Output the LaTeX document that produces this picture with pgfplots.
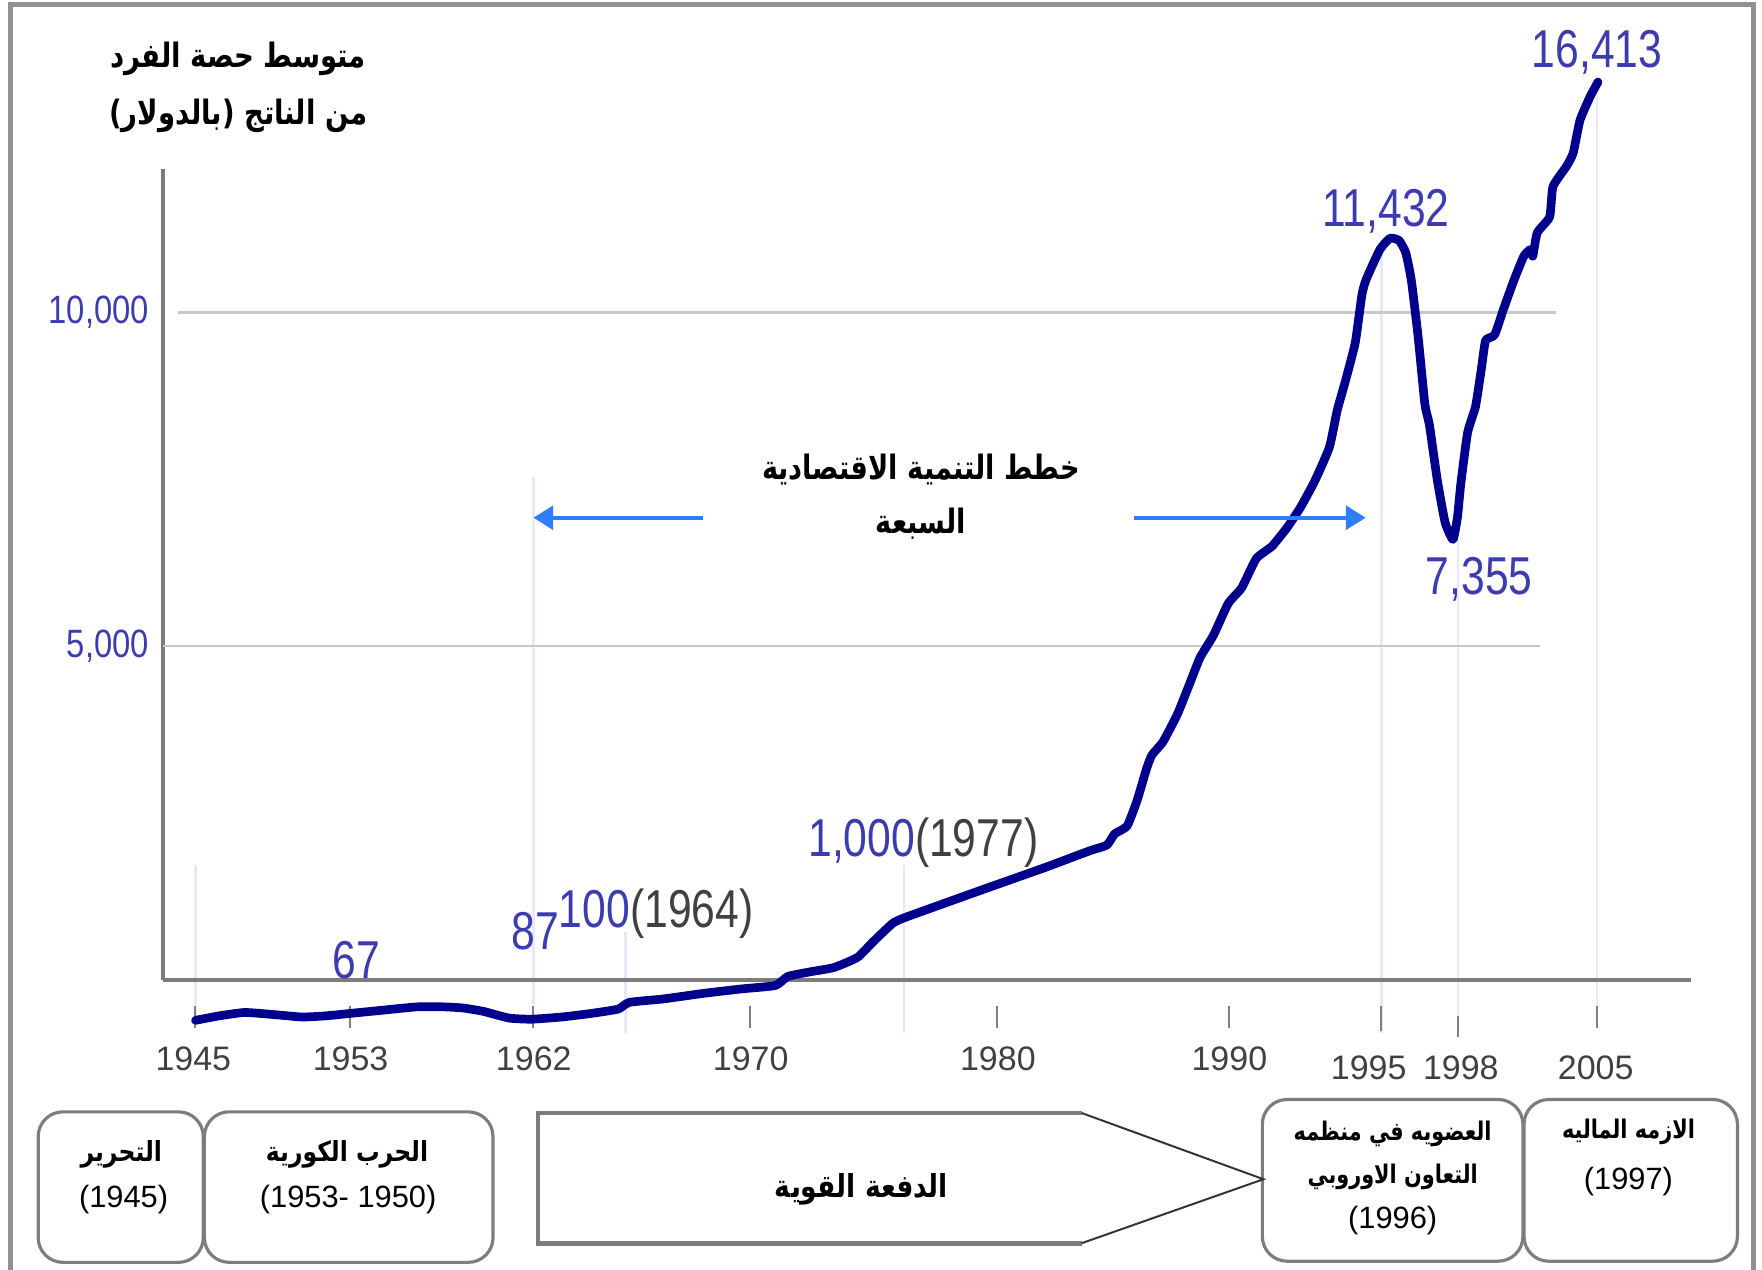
\documentclass[border=0pt]{standalone}
\usepackage{pgfplots}
\pgfplotsset{compat=1.18}
\usepackage{pgfplotstable}
\usepackage{fontspec}
\setmainfont{Liberation Sans}
\newfontfamily\arabicfont[Script=Arabic]{DejaVu Sans}
\TeXXeTstate=1
\usetikzlibrary{arrows.meta}

\definecolor{navyline}{RGB}{0,0,140}
\definecolor{lblblue}{RGB}{60,60,175}
\definecolor{arrowblue}{RGB}{50,125,255}
\definecolor{guide}{RGB}{232,232,250}
\definecolor{gridgray}{RGB}{200,200,200}
\definecolor{boxgray}{RGB}{125,125,125}

% condensed, large value labels
\newcommand{\biglbl}[1]{\scalebox{0.8}[1]{\fontsize{13.5}{14}\selectfont #1}}
% arabic text: size, horizontal squeeze, text (text carries its own \beginR..\endR)
\newcommand{\ar}[3]{\scalebox{#2}[1]{\fontsize{#1}{#1}\selectfont\arabicfont\bfseries #3}}

% per-capita GNI (schematic), x = position on the timeline
\pgfplotstableread{
x y
174 -606
195 -539
218 -488
245 -522
269 -556
290 -539
310 -505
340 -455
371 -404
395 -404
412 -421
430 -471
453 -572
473 -589
500 -556
525 -505
550 -438
560 -337
590 -286
626 -202
660 -135
690 -84
701 51
720 118
742 185
763 337
777 572
794 842
804 926
840 1145
879 1380
930 1684
970 1936
985 2020
992 2189
1003 2306
1012 2694
1020 3148
1025 3367
1035 3569
1048 3990
1060 4495
1068 4832
1080 5168
1093 5640
1105 5875
1118 6313
1132 6498
1145 6768
1157 7071
1170 7475
1183 7980
1190 8535
1197 8956
1206 9545
1212 10269
1216 10505
1228 10943
1237 11111
1245 11077
1251 10892
1256 10471
1262 9630
1268 8620
1272 8316
1279 7492
1286 6852
1293 6599
1297 6936
1300 7441
1306 8199
1313 8586
1318 9125
1322 9579
1330 9663
1338 10051
1347 10471
1356 10842
1362 10943
1364 10842
1368 11195
1379 11431
1382 11886
1394 12189
1400 12391
1406 12879
1415 13232
1422 13451
}\gdpdata

\begin{document}
\begin{tikzpicture}
\useasboundingbox (0,0) rectangle (15.68,-11.30);

% background guides and tick marks
\begin{scope}[x=0.01cm,y=-0.01cm]
\draw[boxgray!85, line width=1.3pt] (9,1140) -- (9,4) -- (1561,4) -- (1561,1140);
\foreach \x/\a/\b in {174/770/905,475/425/895,557/830/920,805/770/920,1230/215/920,1298/480/910,1422/85/900}
  \draw[guide, line width=0.6pt] (\x,\a) -- (\x,\b);
\foreach \x in {174,312,475,668,888,1094,1422}
  \draw[gray, line width=0.5pt] (\x,896) -- (\x,915);
\draw[gray, line width=0.5pt] (1230,896) -- (1230,918);
\draw[gray, line width=0.5pt] (1298,905) -- (1298,923);
\end{scope}

\begin{axis}[
  at={(1.45cm,-8.72cm)}, anchor=south west,
  scale only axis, width=13.6cm, height=7.22cm,
  xmin=145, xmax=1505, ymin=0, ymax=12155,
  clip=false,
  axis lines=left,
  axis line style={-, draw=boxgray, line width=0.9pt},
  major tick length=0pt,
  scaled y ticks=false,
  xtick={172,312,475,668,888,1094},
  xticklabels={1945,1953,1962,1970,1980,1990},
  extra x ticks={1218,1300,1420},
  extra x tick labels={1995,1998,2005},
  extra x tick style={xticklabel style={yshift=-0.08cm}},
  xticklabel style={yshift=-0.47cm, text=black!75, font=\fontsize{8.6}{9}\selectfont},
  ytick={5000,10000},
  yticklabels={\scalebox{0.83}[1]{5,000},\scalebox{0.83}[1]{10,000}},
  yticklabel style={text=lblblue, font=\fontsize{10}{10}\selectfont},
]
\draw[gridgray, line width=0.6pt] (axis cs:158,10000) -- (axis cs:1385,10000);
\draw[gridgray, line width=0.6pt] (axis cs:145,5000) -- (axis cs:1370,5000);
\addplot[navyline, line width=2.2pt, line join=round, line cap=round, smooth, tension=0.3]
  table[x=x, y=y] {\gdpdata};
\end{axis}

% annotations, arrows and timeline boxes
\begin{scope}[x=0.01cm,y=-0.01cm]
\node[text=lblblue, inner sep=0] at (1422,47) {\biglbl{16,413}};
\node[text=lblblue, inner sep=0] at (1234,188) {\biglbl{11,432}};
\node[text=lblblue, inner sep=0] at (1317,516) {\biglbl{7,355}};
\node[anchor=west, inner sep=0] at (719,750) {\biglbl{\textcolor{lblblue}{1,000}\textcolor{black!75}{(1977)}}};
\node[anchor=west, inner sep=0] at (497,814) {\biglbl{\textcolor{lblblue}{100}\textcolor{black!75}{(1964)}}};
\node[anchor=west, text=lblblue, inner sep=0] at (455,829) {\biglbl{87}};
\node[text=lblblue, inner sep=0] at (317,855) {\biglbl{67}};

\node at (212,52) {\ar{8.5}{0.82}{\beginR متوسط حصة الفرد\endR}};
\node at (212,103) {\ar{8.5}{0.82}{\beginR من الناتج (بالدولار)\endR}};

\node at (820,418) {\ar{8.5}{0.81}{\beginR خطط التنمية الاقتصادية\endR}};
\node at (820,466) {\ar{8.5}{0.81}{\beginR السبعة\endR}};
\draw[arrowblue, line width=1pt, -{Triangle[length=5pt,width=6pt]}] (626,461) -- (475,461);
\draw[arrowblue, line width=1pt, -{Triangle[length=5pt,width=6pt]}] (1010,461) -- (1216,461);

\draw[boxgray, line width=0.8pt, rounded corners=0.22cm] (34,990) rectangle (181,1124);
\draw[boxgray, line width=0.8pt, rounded corners=0.22cm] (182,990) rectangle (439,1124);
\draw[boxgray, line width=0.8pt, rounded corners=0.22cm] (1124,979) rectangle (1356,1123);
\draw[boxgray, line width=0.8pt, rounded corners=0.22cm] (1357,979) rectangle (1547,1123);
\draw[boxgray, line width=1.2pt] (963,991) -- (479,991) -- (479,1107) -- (963,1107);
\draw[black!80, line width=0.5pt] (963,991) -- (1125,1050) -- (963,1107);

\node at (108,1028) {\ar{7}{0.85}{\beginR التحرير\endR}};
\node at (110,1068) {\fontsize{7.8}{8}\selectfont (1945)};
\node at (309,1028) {\ar{7}{0.85}{\beginR الحرب الكورية\endR}};
\node at (310,1068) {\fontsize{7.8}{8}\selectfont (1953- 1950)};
\node at (767,1059) {\ar{8}{0.84}{\beginR الدفعة القوية\endR}};
\node at (1240,1010) {\ar{6.5}{0.81}{\beginR العضويه في منظمه\endR}};
\node at (1240,1048) {\ar{6.5}{0.81}{\beginR التعاون الاوروبي\endR}};
\node at (1240,1087) {\fontsize{7.8}{8}\selectfont (1996)};
\node at (1450,1008) {\ar{6.5}{0.81}{\beginR الازمه الماليه\endR}};
\node at (1450,1052) {\fontsize{7.8}{8}\selectfont (1997)};
\end{scope}
\end{tikzpicture}
\end{document}
